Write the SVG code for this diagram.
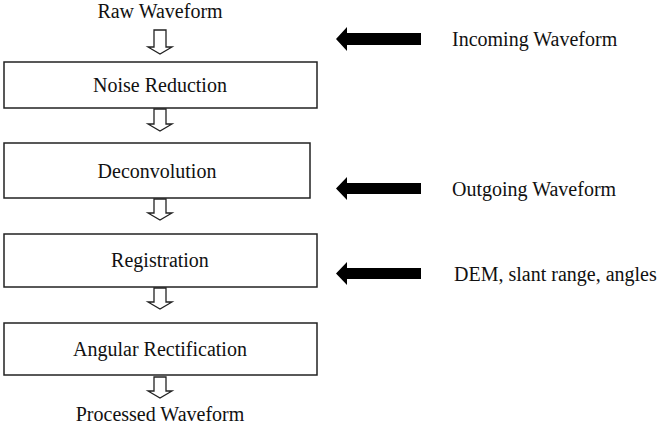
<svg xmlns="http://www.w3.org/2000/svg" width="660" height="426" viewBox="0 0 660 426">
<style>
text{font-family:"Liberation Serif","Times New Roman",serif;font-size:20px;fill:#111}
.c{text-anchor:middle}
.box{fill:#fff;stroke:#222;stroke-width:1.5}
.ha{fill:#fff;stroke:#222;stroke-width:1.3;stroke-linejoin:miter}
.ba{fill:#000}
</style>
<rect width="660" height="426" fill="#fff"/>
<g id="connectors">
<path class="ha" d="M154,30 H166 V47 H172 L160,54 L148,47 H154 Z"/>
<path class="ha" d="M154,109 H166 V124 H172 L160,131 L148,124 H154 Z"/>
<path class="ha" d="M154,199 H166 V213 H172 L160,220 L148,213 H154 Z"/>
<path class="ha" d="M154,288 H166 V302 H172 L160,309 L148,302 H154 Z"/>
<path class="ha" d="M154,377 H166 V391 H172 L160,398 L148,391 H154 Z"/>
<path class="ba" d="M421,33 V45 H347 V51 L336,39 L347,27 V33 Z"/>
<path class="ba" d="M421,183 V194 H347 V200 L336,188.5 L347,177 V183 Z"/>
<path class="ba" d="M421,268 V279 H347 V285 L336,273.5 L347,262 V268 Z"/>
</g>
<g id="raw"><text class="c" x="160" y="18">Raw Waveform</text></g>
<g id="noise"><rect class="box" x="4" y="62" width="313" height="46"/><text class="c" x="160" y="92">Noise Reduction</text></g>
<g id="deconv"><rect class="box" x="4" y="143" width="306" height="55"/><text class="c" x="157" y="178">Deconvolution</text></g>
<g id="reg"><rect class="box" x="4" y="234" width="313" height="53"/><text class="c" x="160" y="267">Registration</text></g>
<g id="angular"><rect class="box" x="4" y="323" width="313" height="52"/><text class="c" x="160" y="356">Angular Rectification</text></g>
<g id="processed"><text class="c" x="160" y="421">Processed Waveform</text></g>
<g id="incoming"><text x="452" y="46">Incoming Waveform</text></g>
<g id="outgoing"><text x="452" y="196">Outgoing Waveform</text></g>
<g id="dem"><text x="454" y="281">DEM, slant range, angles</text></g>
</svg>
